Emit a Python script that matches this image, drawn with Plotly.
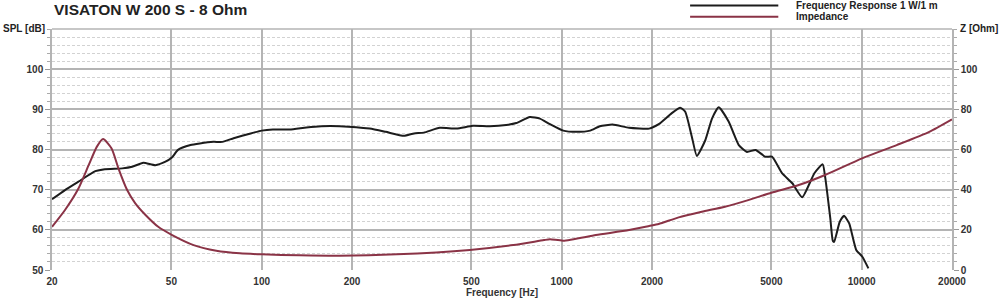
import numpy as np
import plotly.graph_objects as go

# ---- data ----
spl_freq = [20, 22.1, 24.5, 27.9, 30, 34.3, 37.0, 40.3, 44.2, 47.6, 50.2, 52.6, 57.9,
            62.2, 69.0, 74.0, 80.6, 91.9, 100, 109, 124, 141, 158, 182, 229, 259, 298, 322,
            347, 392, 446, 506, 575, 653, 706, 783, 846, 914, 1012, 1121, 1244, 1340, 1479,
            1677, 1956, 2106, 2324, 2483, 2581, 2715, 2822, 3011, 3170, 3337, 3605, 3893,
            4146, 4428, 4775, 5024, 5425, 5872, 6334, 6955, 7413, 7560, 7858, 8015, 8095,
            8451, 8730, 9085, 9590, 10050, 10530]
spl_db = [67.6, 69.9, 72.0, 74.6, 75.1, 75.3, 75.7, 76.7, 76.1, 76.9, 78.0, 79.9, 81.1,
          81.5, 81.9, 81.9, 82.8, 84.0, 84.7, 85.0, 85.0, 85.5, 85.8, 85.8, 85.2, 84.4, 83.4, 84.0,
          84.2, 85.4, 85.2, 85.9, 85.8, 86.1, 86.6, 88.1, 87.7, 86.3, 84.7, 84.4, 84.7, 85.8, 86.2,
          85.4, 85.2, 86.3, 89.0, 90.4, 89.4, 83.2, 78.4, 82.3, 87.7, 90.5, 86.9, 81.1,
          79.4, 79.9, 78.2, 78.2, 74.1, 71.6, 68.1, 74.1, 76.3, 73.0, 62.9, 57.2, 57.0,
          62.0, 63.5, 61.6, 55.0, 53.3, 50.4]

imp_freq = [20, 22.1, 24.5, 26.5, 28.2, 29.6, 31.6, 33.3, 35.6, 37.9, 41.0, 45.2, 50.3, 59.3,
            70.6, 84.6, 100, 134, 182, 282, 494, 690, 873, 914, 1012, 1300, 1677, 1956, 2106,
            2454, 2931, 3500, 4186, 5000, 6171, 7550, 10030, 13080, 16800, 20000]
imp_ohm = [21.5, 29.9, 40.6, 52.2, 61.3, 65.2, 60.5, 50.6, 39.8, 33.2, 27.4, 21.5, 17.4, 12.4,
           9.6, 8.3, 7.8, 7.3, 7.1, 7.8, 10.0, 12.4, 14.9, 15.3, 14.6, 17.4, 19.9, 21.9, 22.9,
           26.2, 29.0, 31.5, 34.8, 38.5, 42.3, 47.3, 55.6, 62.2, 68.8, 75.0]

x_major = [20, 50, 100, 200, 500, 1000, 2000, 5000, 10000, 20000]
x_minor = [30, 40, 60, 70, 80, 90, 300, 400, 600, 700, 800, 900,
           3000, 4000, 6000, 7000, 8000, 9000]
spl_ticks = [50, 60, 70, 80, 90, 100]
z_ticks = [0, 20, 40, 60, 80, 100]

title = "VISATON W 200 S - 8 Ohm"
legend_names = ["Frequency Response 1 W/1 m", "Impedance"]
spl_color = "#1c1c1c"
imp_color = "#8a3346"

FONT = "Liberation Sans, Arial, sans-serif"
TICKFONT = dict(family=FONT, size=10, color="#333333", weight="bold")
XR = [np.log10(20), np.log10(20000)]

fig = go.Figure()
fig.add_trace(go.Scatter(x=imp_freq, y=imp_ohm, mode="lines",
                         line=dict(color=imp_color, width=2, shape="spline", smoothing=0.6),
                         xaxis="x", yaxis="y2", name=legend_names[1], showlegend=False))
fig.add_trace(go.Scatter(x=spl_freq, y=spl_db, mode="lines",
                         line=dict(color=spl_color, width=2, shape="spline", smoothing=0.5),
                         xaxis="x", yaxis="y", name=legend_names[0], showlegend=False))

GRID_MAJOR = "#b4b4b4"
GRID_MINOR = "#d2d2d2"

fig.update_layout(
    width=1007, height=304,
    margin=dict(l=52, r=55, t=29, b=34, autoexpand=False),
    paper_bgcolor="white", plot_bgcolor="white",
    font=dict(family=FONT, size=10, color="#333333"),
    xaxis=dict(type="log", range=XR, tickvals=x_major, ticktext=[str(v) for v in x_major],
               showgrid=True, gridcolor=GRID_MAJOR, gridwidth=1.5, zeroline=False, automargin=False,
               showline=False, ticks="", tickfont=TICKFONT, ticklabelstandoff=4,
               title=dict(text="Frequency [Hz]",
                          font=dict(family=FONT, size=10, color="#333333", weight="bold"), standoff=0)),
    xaxis2=dict(type="log", range=XR, overlaying="x", tickvals=x_minor, showticklabels=False,
                showgrid=True, gridcolor=GRID_MINOR, griddash="3px,2px", gridwidth=1, zeroline=False,
                ticks="", showline=False, automargin=False),
    yaxis=dict(range=[50, 110], tickvals=spl_ticks, showgrid=True, gridcolor=GRID_MAJOR, gridwidth=1.5,
               zeroline=False, showline=True, linecolor=GRID_MAJOR, linewidth=1.5, automargin=False,
               ticks="outside", ticklen=5, tickcolor="#999999", tickfont=TICKFONT,
               minor=dict(dtick=2, showgrid=True, gridcolor=GRID_MINOR, griddash="3px,2px", gridwidth=1,
                          ticks="outside", ticklen=3, tickcolor="#aaaaaa")),
    yaxis2=dict(range=[0, 120], tickvals=z_ticks, overlaying="y", side="right", showgrid=False,
                zeroline=False, showline=True, linecolor=GRID_MAJOR, linewidth=1.5, automargin=False,
                ticks="outside", ticklen=5, tickcolor="#999999", tickfont=TICKFONT,
                minor=dict(dtick=4, ticks="outside", ticklen=3, tickcolor="#aaaaaa", showgrid=False)),
    showlegend=False,
)

# top border line
fig.add_shape(type="line", xref="paper", yref="paper", x0=0, x1=1, y0=1, y1=1,
              line=dict(color=GRID_MAJOR, width=1.5))

# title & axis labels
bold = dict(family=FONT, color="#222222", weight="bold")
fig.add_annotation(text=title, xref="paper", yref="paper", x=0, y=1.08, xanchor="left", yanchor="middle",
                   showarrow=False, font=dict(size=15.5, **bold))
fig.add_annotation(text="SPL [dB]", xref="paper", yref="paper", x=0, y=1.0, xanchor="right", yanchor="middle",
                   xshift=-5, yshift=1, showarrow=False, font=dict(size=10, **bold))
fig.add_annotation(text="Z [Ohm]", xref="paper", yref="paper", x=1, y=1.0, xanchor="left", yanchor="middle",
                   xshift=6, yshift=1, showarrow=False, font=dict(size=10, **bold))

# legend (drawn manually)
for name, color, ly in zip(legend_names, [spl_color, imp_color], [1.097, 1.051]):
    fig.add_shape(type="line", xref="paper", yref="paper", x0=0.709, x1=0.807, y0=ly, y1=ly,
                  line=dict(color=color, width=2))
    fig.add_annotation(text=name, xref="paper", yref="paper", x=0.824, y=ly, xanchor="left", yanchor="middle",
                       showarrow=False, font=dict(size=10, **bold))

fig.write_html("out.html")
